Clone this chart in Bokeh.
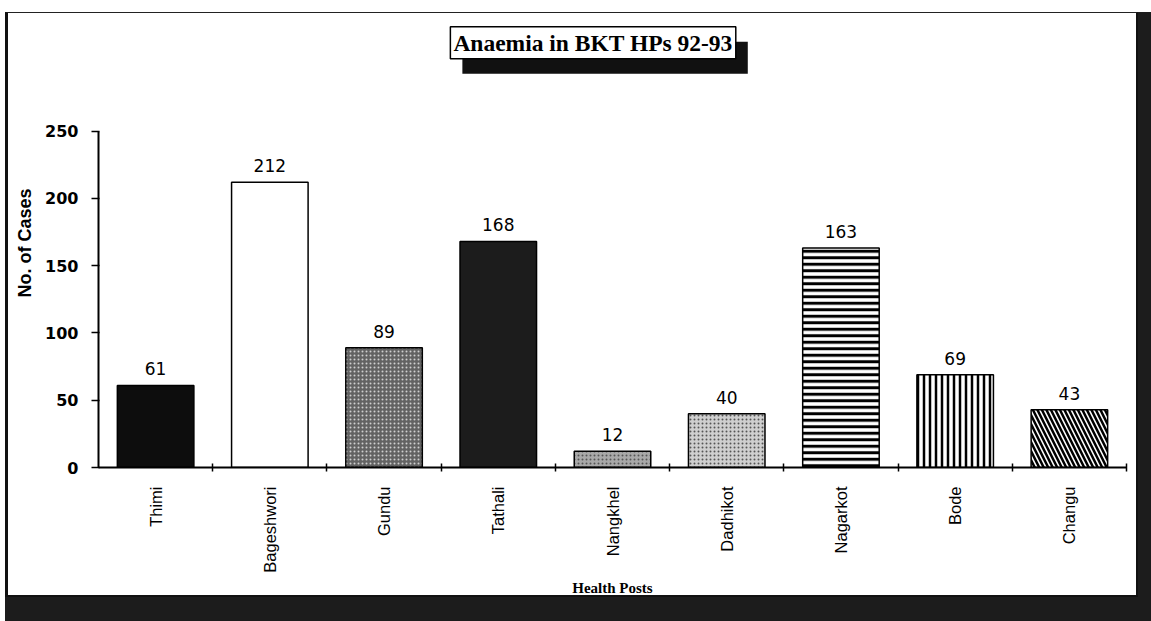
import math
from bokeh.plotting import figure
from bokeh.models import ColumnDataSource, Range1d, FixedTicker, Label
from bokeh.core.properties import value
from bokeh.embed import file_html
from bokeh.resources import INLINE

# ---- data ----
categories = ["Thimi", "Bageshwori", "Gundu", "Tathali", "Nangkhel",
              "Dadhikot", "Nagarkot", "Bode", "Changu"]
cases = [61, 212, 89, 168, 12, 40, 163, 69, 43]
y_ticks = [0, 50, 100, 150, 200, 250]
title_text = "Anaemia in BKT HPs 92-93"
x_title = "Health Posts"
y_title = "No. of Cases"

# ---- styles ----
fills = ["#0d0d0d", "#ffffff", "#626262", "#1c1c1c", "#a8a8a8",
         "#cfcfcf", "#ffffff", "#ffffff", "#ffffff"]
hatches = [" ", " ", ".", " ", ".", ".", "-", "|", "\\"]
hatch_colors = ["black", "black", "#cfcfcf", "black", "#555555",
                "#555555", "black", "black", "black"]
hscale = [6, 6, 4, 6, 4, 4, 6.5, 6, 9]
hweight = [1, 1, 1, 1, 1, 1, 3, 2.5, 2.5]

# slot positions of each category on the x scale (slot i spans i..i+1)
slot_centers = [i + 0.5 for i in range(len(categories))]
slot_bounds = [i + 1 for i in range(len(categories))]

src = ColumnDataSource(dict(x=slot_centers, cat=categories, val=cases,
                            label=[str(v) for v in cases],
                            fill=fills, hatch=hatches, hcolor=hatch_colors,
                            hscale=hscale, hweight=hweight))

y_top = 333.6
p = figure(width=1133, height=585, x_range=Range1d(0, len(categories)),
           y_range=Range1d(0, y_top), output_backend="svg",
           toolbar_location=None,
           min_border_left=90, min_border_right=15, min_border_top=5,
           min_border_bottom=129)
p.margin = (12, 0, 0, 5)
p.outline_line_color = None
p.grid.grid_line_color = None
p.background_fill_color = "white"
p.border_fill_color = "white"

p.styles = {
    "border-top": "1px solid #222",
    "border-left": "3px solid #111",
    "border-right": "2px solid #111",
    "border-bottom": "2px solid #111",
    "box-shadow": "13px 0 0 #1c1c1c, 0 30px 0 #1c1c1c, 13px 30px 0 #1c1c1c",
}

# y axis
ya = p.yaxis[0]
ya.bounds = (y_ticks[0], y_ticks[-1])
ya.ticker = FixedTicker(ticks=y_ticks)
ya.minor_tick_line_color = None
ya.major_tick_out = 7
ya.major_tick_in = 1
ya.axis_line_width = 2
ya.major_tick_line_width = 1.5
ya.major_label_standoff = 13
ya.major_label_text_font = "DejaVu Sans"
ya.major_label_text_font_style = "bold"
ya.major_label_text_font_size = "16px"
ya.major_label_text_color = "black"
ya.axis_label = y_title
ya.axis_label_text_font = "Liberation Sans"
ya.axis_label_text_font_style = "bold"
ya.axis_label_text_font_size = "18px"
ya.axis_label_standoff = 7
ya.axis_label_text_color = "black"

# x axis: labels at slot centres, tick marks at slot boundaries
xa = p.xaxis[0]
xa.ticker = FixedTicker(ticks=slot_centers, minor_ticks=slot_bounds)
xa.major_label_overrides = {c: n for c, n in zip(slot_centers, categories)}
xa.major_tick_line_color = None
xa.major_tick_out = 0
xa.major_tick_in = 0
xa.minor_tick_in = 4
xa.minor_tick_out = 4
xa.minor_tick_line_width = 1.5
xa.minor_tick_line_color = "black"
xa.axis_line_width = 2
xa.major_label_orientation = math.pi / 2
xa.major_label_standoff = 15
xa.major_label_text_font = "Liberation Sans"
xa.major_label_text_font_size = "16.5px"
xa.major_label_text_color = "black"
xa.axis_label = x_title
xa.axis_label_text_font = "Liberation Serif"
xa.axis_label_text_font_style = "bold"
xa.axis_label_text_font_size = "15px"
xa.axis_label_standoff = 4
xa.axis_label_text_color = "black"

# bars
p.vbar(x="x", top="val", bottom=0, width=0.67, source=src,
       fill_color="fill", line_color="black", line_width=1.5,
       hatch_pattern="hatch", hatch_color="hcolor",
       hatch_scale="hscale", hatch_weight="hweight")

p.text(x="x", y="val", text="label", source=src, text_align="center",
       text_baseline="bottom", y_offset=-10,
       text_font=value("DejaVu Sans"), text_font_size="17px",
       text_color="black")

# title box with shadow
tx, ty = 4.33, 315.5
shadow = Label(x=tx, y=ty, text=title_text, text_font="Liberation Serif",
               text_font_style="bold", text_font_size="23.5px",
               text_color="#111111", text_align="center",
               text_baseline="middle", background_fill_color="#111111",
               padding=3, x_offset=12, y_offset=-15)
box = Label(x=tx, y=ty, text=title_text, text_font="Liberation Serif",
            text_font_style="bold", text_font_size="23.5px",
            text_color="black", text_align="center", text_baseline="middle",
            background_fill_color="white", border_line_color="black",
            border_line_width=1.5, padding=3)
p.add_layout(shadow)
p.add_layout(box)

open("out.html", "w").write(file_html(p, INLINE))
